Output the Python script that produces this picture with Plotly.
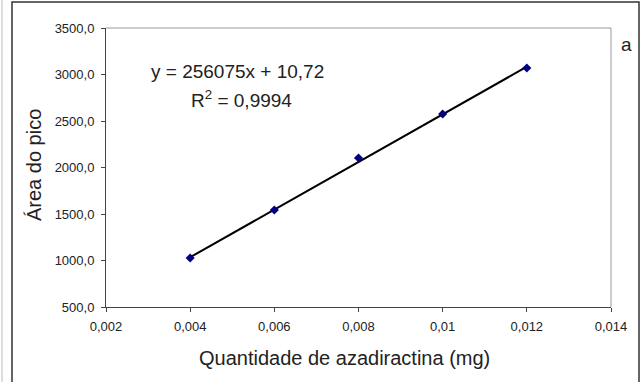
import plotly.graph_objects as go

x_vals = [0.004, 0.006, 0.008, 0.010, 0.012]
y_vals = [1027, 1543, 2102, 2575, 3070]
slope = 256075
intercept = 10.72
x_ticks = [0.002, 0.004, 0.006, 0.008, 0.010, 0.012, 0.014]
x_tick_text = ["0,002", "0,004", "0,006", "0,008", "0,01", "0,012", "0,014"]
y_ticks = [500, 1000, 1500, 2000, 2500, 3000, 3500]
y_tick_text = ["500,0", "1000,0", "1500,0", "2000,0", "2500,0", "3000,0", "3500,0"]

trend_x = [min(x_vals), max(x_vals)]
trend_y = [slope * v + intercept for v in trend_x]

FONT = "Liberation Sans, Arial, sans-serif"
TXT = "#222"
L, R, T, B = 106, 611, 28, 307
W, H = R - L, B - T


def px(x):
    return (x - L) / W


def py(y):
    return (B - y) / H


fig = go.Figure()
fig.add_trace(go.Scatter(x=trend_x, y=trend_y, mode="lines",
                         line=dict(color="black", width=2), showlegend=False))
fig.add_trace(go.Scatter(x=x_vals, y=y_vals, mode="markers",
                         marker=dict(symbol="diamond", color="#000080", size=7),
                         showlegend=False))

fig.update_layout(
    width=644, height=382,
    margin=dict(l=L, r=644 - R, t=T, b=382 - B),
    paper_bgcolor="white", plot_bgcolor="white",
    font=dict(family=FONT, color=TXT),
    xaxis=dict(range=[0.002, 0.014], tickvals=x_ticks, ticktext=x_tick_text,
               showgrid=False, zeroline=False, showline=True, linecolor="#444", linewidth=1,
               ticks="outside", ticklen=4, tickcolor="#444", ticklabelstandoff=3,
               tickfont=dict(size=13, color=TXT)),
    yaxis=dict(range=[500, 3500], tickvals=y_ticks, ticktext=y_tick_text,
               showgrid=False, zeroline=False, showline=True, linecolor="#444", linewidth=1,
               ticks="outside", ticklen=4, tickcolor="#444", ticklabelstandoff=4,
               tickfont=dict(size=13, color=TXT)),
    shapes=[
        dict(type="line", xref="paper", yref="paper", x0=0, x1=1, y0=1, y1=1,
             line=dict(color="#999", width=1)),
        dict(type="line", xref="paper", yref="paper", x0=1, x1=1, y0=0, y1=1,
             line=dict(color="#999", width=1)),
        dict(type="rect", xref="paper", yref="paper", x0=px(12), x1=px(639), y0=py(420), y1=py(2),
             line=dict(color="#333", width=1.5)),
        dict(type="line", xref="paper", yref="paper", x0=px(2), x1=px(2), y0=py(420), y1=py(0),
             line=dict(color="#bbb", width=1)),
    ],
    annotations=[
        dict(text="Quantidade de azadiractina (mg)", xref="paper", yref="paper",
             x=px(344), y=py(358), showarrow=False,
             font=dict(size=20, color=TXT), xanchor="center", yanchor="middle"),
        dict(text="Área do pico", xref="paper", yref="paper",
             x=px(34), y=py(165), showarrow=False, textangle=-90,
             font=dict(size=20, color=TXT), xanchor="center", yanchor="middle"),
        dict(text="y = 256075x + 10,72", xref="paper", yref="paper",
             x=px(237), y=py(71), showarrow=False,
             font=dict(size=19, color=TXT), xanchor="center", yanchor="middle"),
        dict(text="R<sup>2</sup> = 0,9994", xref="paper", yref="paper",
             x=px(241), y=py(99), showarrow=False,
             font=dict(size=19, color=TXT), xanchor="center", yanchor="middle"),
        dict(text="a", xref="paper", yref="paper",
             x=px(626), y=py(44), showarrow=False,
             font=dict(size=19, color=TXT), xanchor="center", yanchor="middle"),
    ],
)

fig.write_html("out.html")
